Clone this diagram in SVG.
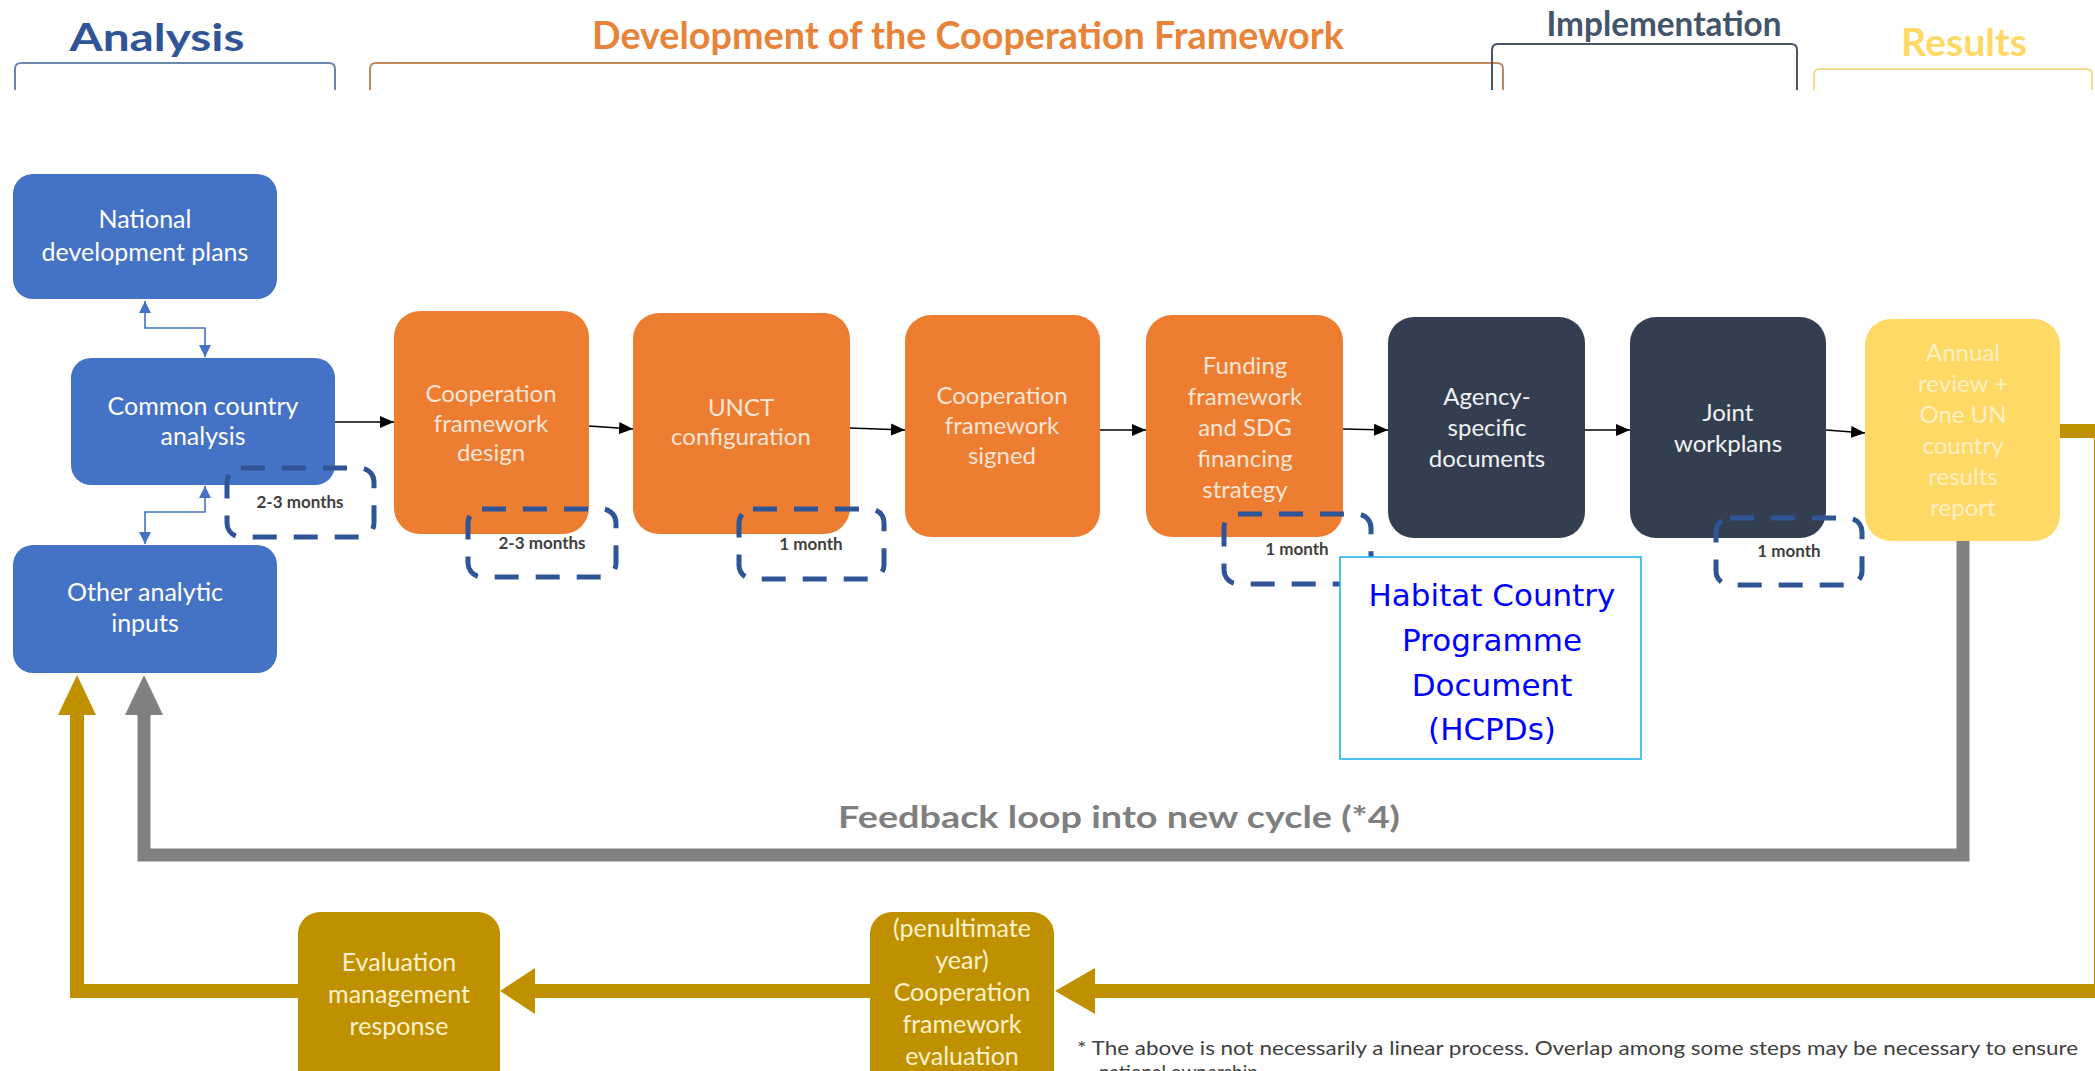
<svg xmlns="http://www.w3.org/2000/svg" width="2095" height="1071" viewBox="0 0 2095 1071">
<style>
  text { font-family: Lato, "Open Sans", "Liberation Sans", sans-serif; text-anchor: middle; }
  text.left { text-anchor: start; }
  .title { font-weight: 700; font-size: 38px; }
  .bracket { fill: none; stroke-width: 2; }
  .blue rect { fill: #4472C4; }
  .blue text { fill: #FFFFFF; font-size: 25px; }
  .orange rect { fill: #ED7D31; }
  .orange text { fill: #FBE5D6; font-size: 24px; }
  .dark rect { fill: #333F50; }
  .dark text { fill: #F2F2F2; font-size: 24px; }
  .yellow rect { fill: #FFD966; }
  .yellow text { fill: #FFF0C4; font-size: 24px; }
  .gold rect { fill: #BF9000; }
  .gold text { fill: #FFF2CC; font-size: 25px; }
  .dash rect { fill: none; stroke: #2F5597; stroke-width: 5; stroke-dasharray: 24 17; }
  .dash text { fill: #404040; font-size: 17px; font-weight: 700; }
  .flow { fill: none; stroke: #000000; stroke-width: 1.6; marker-end: url(#ab); }
  .link { fill: none; stroke: #4472C4; stroke-width: 1.6; marker-start: url(#abl); marker-end: url(#abl); }
  .hcpd text { fill: #0000FF; font-family: "DejaVu Sans", sans-serif; font-size: 31px; }
  .note { fill: #404040; font-size: 19px; }
</style>
<defs>
  <marker id="ab" markerUnits="userSpaceOnUse" markerWidth="14" markerHeight="12" refX="14" refY="6" orient="auto">
    <path d="M0,0 L14,6 L0,12 z" fill="#000000"/>
  </marker>
  <marker id="abl" markerUnits="userSpaceOnUse" markerWidth="12" markerHeight="12" refX="12" refY="6" orient="auto-start-reverse">
    <path d="M0,0 L12,6 L0,12 z" fill="#4472C4"/>
  </marker>
</defs>
<rect x="0" y="0" width="2095" height="1071" fill="#FFFFFF"/>

<g id="phase-headers">
  <text class="title" x="157" y="51" fill="#2F5597" textLength="175" lengthAdjust="spacingAndGlyphs">Analysis</text>
  <path class="bracket" stroke="#6A87AE" d="M15,90 V69 Q15,63 21,63 H329 Q335,63 335,69 V90"/>
  <text class="title" x="968" y="49" fill="#E8833A" textLength="752" lengthAdjust="spacingAndGlyphs">Development of the Cooperation Framework</text>
  <path class="bracket" stroke="#C08A5C" d="M370,90 V69 Q370,63 376,63 H1497 Q1503,63 1503,69 V90"/>
  <text class="title" x="1664" y="36" fill="#44546A" style="font-size:34px" textLength="235" lengthAdjust="spacingAndGlyphs">Implementation</text>
  <path class="bracket" stroke="#4A5568" d="M1492,90 V50 Q1492,44 1498,44 H1791 Q1797,44 1797,50 V90"/>
  <text class="title" x="1964" y="56" fill="#FFD966" textLength="126" lengthAdjust="spacingAndGlyphs">Results</text>
  <path class="bracket" stroke="#F3DB8E" d="M1814,90 V75 Q1814,69 1820,69 H2086 Q2092,69 2092,75 V90"/>
</g>

<g id="connectors">
  <path class="link" d="M145,301 V328 H205 V357"/>
  <path class="link" d="M205,486 V512 H145 V544"/>
  <path class="flow" d="M335,422 H394"/>
  <path class="flow" d="M589,426 L633,429"/>
  <path class="flow" d="M850,428 L905,430"/>
  <path class="flow" d="M1100,430 H1146"/>
  <path class="flow" d="M1343,429 L1388,430"/>
  <path class="flow" d="M1585,430 H1630"/>
  <path class="flow" d="M1826,430 L1865,433"/>
  <!-- feedback loop (grey) -->
  <path d="M1963,541 V855 H144 V714" fill="none" stroke="#808080" stroke-width="13"/>
  <polygon points="125,715 163,715 144,675" fill="#808080"/>
  <!-- evaluation loop (gold) -->
  <path d="M2060,431 H2101 V991 H1094" fill="none" stroke="#BF9000" stroke-width="14"/>
  <polygon points="1095,968 1095,1014 1055,991" fill="#BF9000"/>
  <path d="M870,991 H534" fill="none" stroke="#BF9000" stroke-width="14"/>
  <polygon points="535,968 535,1014 500,991" fill="#BF9000"/>
  <path d="M298,991 H77 V714" fill="none" stroke="#BF9000" stroke-width="14"/>
  <polygon points="58,715 96,715 77,675" fill="#BF9000"/>
  <text x="1119" y="828" fill="#7F7F7F" font-weight="700" font-size="31" textLength="562" lengthAdjust="spacingAndGlyphs">Feedback loop into new cycle (*4)</text>
</g>

<g id="node-national" class="blue">
  <rect x="13" y="174" width="264" height="125" rx="20"/>
  <text x="145" y="228">National</text>
  <text x="145" y="261">development plans</text>
</g>
<g id="node-cca" class="blue">
  <rect x="71" y="358" width="264" height="127" rx="20"/>
  <text x="203" y="415">Common country</text>
  <text x="203" y="445">analysis</text>
</g>
<g id="node-other" class="blue">
  <rect x="13" y="545" width="264" height="128" rx="20"/>
  <text x="145" y="601">Other analytic</text>
  <text x="145" y="632">inputs</text>
</g>
<g id="node-cf-design" class="orange">
  <rect x="394" y="311" width="195" height="223" rx="26"/>
  <text x="491" y="402">Cooperation</text>
  <text x="491" y="432">framework</text>
  <text x="491" y="461">design</text>
</g>
<g id="node-unct" class="orange">
  <rect x="633" y="313" width="217" height="221" rx="26"/>
  <text x="741" y="416">UNCT</text>
  <text x="741" y="445">configuration</text>
</g>
<g id="node-cf-signed" class="orange">
  <rect x="905" y="315" width="195" height="222" rx="26"/>
  <text x="1002" y="404">Cooperation</text>
  <text x="1002" y="434">framework</text>
  <text x="1002" y="464">signed</text>
</g>
<g id="node-funding" class="orange">
  <rect x="1146" y="315" width="197" height="222" rx="26"/>
  <text x="1245" y="374">Funding</text>
  <text x="1245" y="405">framework</text>
  <text x="1245" y="436">and SDG</text>
  <text x="1245" y="467">financing</text>
  <text x="1245" y="498">strategy</text>
</g>
<g id="node-agency" class="dark">
  <rect x="1388" y="317" width="197" height="221" rx="26"/>
  <text x="1487" y="405">Agency-</text>
  <text x="1487" y="436">specific</text>
  <text x="1487" y="467">documents</text>
</g>
<g id="node-joint" class="dark">
  <rect x="1630" y="317" width="196" height="221" rx="26"/>
  <text x="1728" y="421">Joint</text>
  <text x="1728" y="452">workplans</text>
</g>
<g id="node-annual" class="yellow">
  <rect x="1865" y="319" width="195" height="222" rx="26"/>
  <text x="1963" y="361">Annual</text>
  <text x="1963" y="392">review +</text>
  <text x="1963" y="423">One UN</text>
  <text x="1963" y="454">country</text>
  <text x="1963" y="485">results</text>
  <text x="1963" y="516">report</text>
</g>
<g id="node-evaluation" class="gold">
  <rect x="870" y="912" width="184" height="180" rx="22"/>
  <text x="962" y="937">(penultimate</text>
  <text x="962" y="969">year)</text>
  <text x="962" y="1001">Cooperation</text>
  <text x="962" y="1033">framework</text>
  <text x="962" y="1065">evaluation</text>
</g>
<g id="node-response" class="gold">
  <rect x="298" y="912" width="202" height="180" rx="22"/>
  <text x="399" y="971">Evaluation</text>
  <text x="399" y="1003">management</text>
  <text x="399" y="1035">response</text>
</g>

<g id="durations" class="dash">
  <rect x="227" y="468" width="147" height="69" rx="14"/>
  <text x="300" y="508">2-3 months</text>
  <rect x="468" y="509" width="148" height="68" rx="14"/>
  <text x="542" y="549">2-3 months</text>
  <rect x="739" y="509" width="145" height="70" rx="14"/>
  <text x="811" y="550">1 month</text>
  <rect x="1224" y="514" width="147" height="70" rx="14"/>
  <text x="1297" y="555">1 month</text>
  <rect x="1716" y="518" width="146" height="67" rx="14"/>
  <text x="1789" y="557">1 month</text>
</g>

<g id="node-hcpd" class="hcpd">
  <rect x="1340" y="557" width="301" height="202" fill="#FFFFFF" stroke="#21B4EA" stroke-width="1.6"/>
  <text x="1492" y="606">Habitat Country</text>
  <text x="1492" y="651">Programme</text>
  <text x="1492" y="696">Document</text>
  <text x="1492" y="740">(HCPDs)</text>
</g>

<g id="footnote">
  <text class="left note" x="1077" y="1055" textLength="1001" lengthAdjust="spacingAndGlyphs">* The above is not necessarily a linear process. Overlap among some steps may be necessary to ensure</text>
  <text class="left note" x="1099" y="1079">national ownership.</text>
</g>
</svg>
